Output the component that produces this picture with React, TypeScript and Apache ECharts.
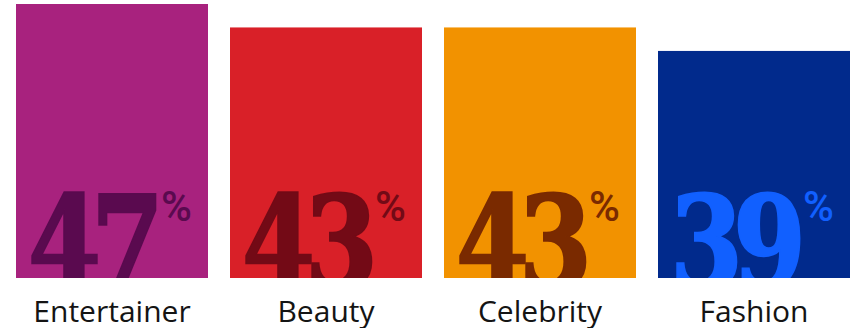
import React, { useEffect, useRef } from "react";
import * as echarts from "echarts";

const categories = ["Entertainer", "Beauty", "Celebrity", "Fashion"];
const values = [47, 43, 43, 39];
const barColors = ["#A8227E", "#D92028", "#F29200", "#012A8C"];
const numberColors = ["#5A0A4F", "#730A16", "#7A2A00", "#1160FF"];

export default function App() {
  const ref = useRef<HTMLDivElement>(null);
  useEffect(() => {
    if (!ref.current) return;
    const chart = echarts.init(ref.current, undefined, { renderer: "svg" });
    const option: any = {
      animation: false,
      grid: { left: 112, right: 100, top: 4, bottom: 50, containLabel: false },
      xAxis: {
        type: "category",
        data: categories,
        boundaryGap: false,
        axisLine: { show: false },
        axisTick: { show: false },
        axisLabel: {
          margin: 18,
          fontFamily: "Open Sans",
          fontSize: 30,
          lineHeight: 28,
          color: "#141414",
        },
      },
      yAxis: {
        type: "value",
        min: 0,
        max: 47,
        show: false,
        splitLine: { show: false },
      },
      series: [
        {
          type: "custom",
          data: values.map((v, i) => [i, v]),
          encode: { x: 0, y: 1 },
          clip: false,
          renderItem: (params: any, api: any) => {
            const idx = params.dataIndex;
            const v = api.value(1);
            const top = api.coord([api.value(0), v]);
            const bottom = api.coord([api.value(0), 0]);
            const next = api.coord([api.value(0) + 1, 0]);
            const step = Math.abs(next[0] - bottom[0]);
            const w = step * (192 / 214);
            const x = top[0] - w / 2;
            const y = top[1];
            const h = bottom[1] - top[1];
            const digits = String(v).split("");
            const digitEls = digits.map((d, i) => ({
              type: "text",
              x: x + 12 + i * 63,
              y: bottom[1] - 36,
              scaleX: 0.82,
              style: {
                text: d,
                fontFamily: "DejaVu Serif",
                fontWeight: "bold",
                fontSize: 128,
                fill: numberColors[idx],
                stroke: numberColors[idx],
                lineWidth: 2.5,
                align: "left",
                verticalAlign: "middle",
              },
            }));
            return {
              type: "group",
              clipPath: { type: "rect", shape: { x, y, width: w, height: h } },
              children: [
                {
                  type: "rect",
                  shape: { x, y, width: w, height: h },
                  style: { fill: barColors[idx] },
                },
                ...digitEls,
                {
                  type: "text",
                  x: x + 145,
                  y: bottom[1] - 72,
                  style: {
                    text: "%",
                    fontFamily: "Roboto",
                    fontWeight: 500,
                    fontSize: 42,
                    fill: numberColors[idx],
                    align: "left",
                    verticalAlign: "middle",
                  },
                },
              ],
            };
          },
        },
      ],
    };
    chart.setOption(option);
    return () => chart.dispose();
  }, []);
  return (
    <div
      ref={ref}
      style={{ position: "fixed", left: 0, top: 0, width: 854, height: 328, background: "#fff" }}
    />
  );
}
